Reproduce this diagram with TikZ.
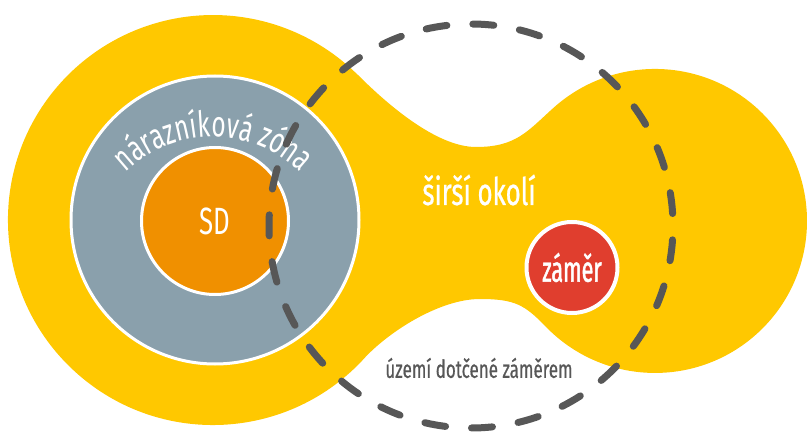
\documentclass[tikz,border=0pt]{standalone}
\usepackage{fontspec}
\setmainfont{Fira Sans}[FakeStretch=0.68]
\newfontfamily\zamerfont{Fira Sans}[FakeStretch=0.6, FakeBold=1.2]
\newfontfamily\okolifont{Fira Sans}[FakeStretch=0.68, FakeBold=0.6]
\usepackage{xcolor}
\usetikzlibrary{decorations.text}

\definecolor{okoliyellow}{HTML}{FFC800}
\definecolor{zonegray}{HTML}{8AA0AC}
\definecolor{sdorange}{HTML}{F09000}
\definecolor{zamerred}{HTML}{E03E2E}
\definecolor{dashgray}{HTML}{575757}

\begin{document}
\begin{tikzpicture}[x=1pt, y=1pt,
    disc/.style={circle, inner sep=0pt, draw=white, line width=3pt},
    whitetext/.style={text=white, font=\fontsize{38}{38}\selectfont},
    dashring/.style={circle, inner sep=0pt, draw=dashgray, line width=7pt,
      line cap=round, dash pattern=on 21pt off 26pt, dash phase=34.5pt},
  ]
  \useasboundingbox (0,0) rectangle (807,432);

  % sirsi okoli (yellow area)
  \fill[okoliyellow] (358,357) .. controls (386.3,328.7) and (436,285) .. (476,285)
    .. controls (516,285) and (527.3,300.6) .. (553.3,324)
    arc[start angle=132, end angle=-136, radius=152]
    .. controls (524.8,127) and (515,133) .. (480,133)
    .. controls (440,133) and (390,101) .. (365.3,74.8)
    arc[start angle=-42, end angle=-315, radius=205] -- cycle;

  \node[disc, fill=zonegray, minimum size=288pt] (buffer) at (215,212) {};
  \node[disc, fill=sdorange, minimum size=147pt, whitetext] (sd) at (215,211) {SD};
  \path[decorate, decoration={text along path, text align=center, text color=white,
      text={|\fontsize{36}{36}\selectfont|nárazníková zóna}}]
    (213,168) ++(145:127) arc[start angle=145, end angle=35, radius=127];

  \node[whitetext, font=\okolifont\fontsize{38}{38}\selectfont] (okoli) at (479,242) {širší okolí};
  \node[disc, fill=zamerred, minimum size=91pt, line width=4pt,
    font=\zamerfont\fontsize{36}{36}\selectfont, text=white] (zamer) at (572,164.5) {záměr};

  % uzemi dotcene zamerem
  \node[dashring, minimum size=404pt] (uzemi) at (471,206) {};
  \node[text=dashgray, font=\okolifont\fontsize{25}{25}\selectfont] (uzemilabel) at (479,64)
    {území dotčené záměrem};
\end{tikzpicture}
\end{document}
